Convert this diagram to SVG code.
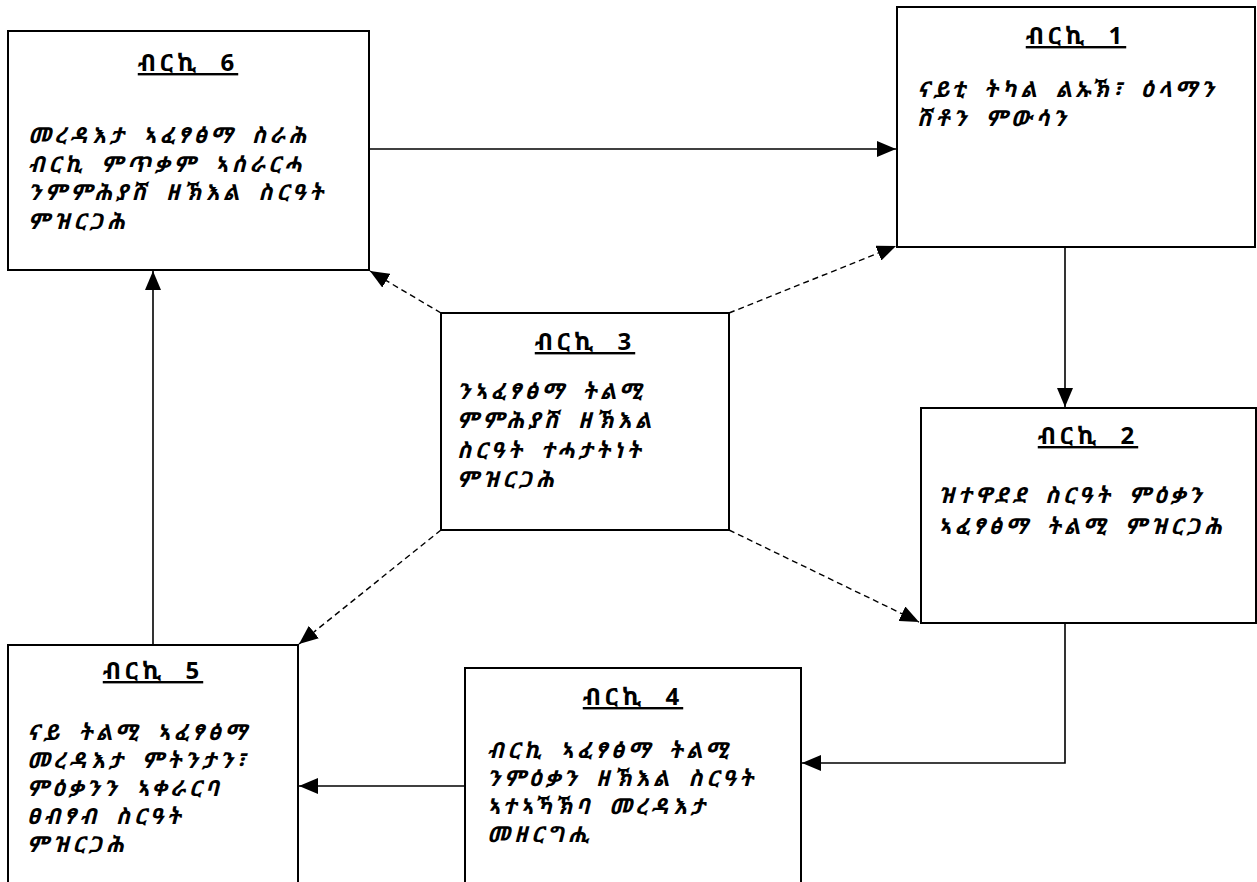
<svg xmlns="http://www.w3.org/2000/svg" width="1257" height="882" viewBox="0 0 1257 882">
<style>
.box{fill:#fff;stroke:#000;stroke-width:2}
.t{font-family:"Noto Sans Ethiopic","Abyssinica SIL","Noto Sans","DejaVu Sans",serif;font-size:24px;font-weight:bold;text-anchor:middle;text-decoration:underline;letter-spacing:4px;word-spacing:10px;fill:#000}
.b{font-family:"Noto Sans Ethiopic","Abyssinica SIL","Noto Sans","DejaVu Sans",serif;font-size:22px;font-weight:bold;font-style:italic;letter-spacing:3.8px;word-spacing:6px;fill:#000}
.c{fill:none;stroke:#000;stroke-width:1.6}
.d{fill:none;stroke:#000;stroke-width:1.4;stroke-dasharray:6 4}
</style>
<defs>
<marker id="ah" markerUnits="userSpaceOnUse" markerWidth="20" markerHeight="16" refX="19" refY="8" orient="auto">
<path d="M0,0 L19,8 L0,16 Z" fill="#000"/>
</marker>
</defs>
<rect width="1257" height="882" fill="#fff"/>
<g id="connectors">
<line class="c" x1="369" y1="149" x2="896" y2="149" marker-end="url(#ah)"/>
<line class="c" x1="1065" y1="247" x2="1065" y2="407" marker-end="url(#ah)"/>
<polyline class="c" points="1065,623 1065,763 802,763" marker-end="url(#ah)"/>
<line class="c" x1="465" y1="786" x2="299" y2="786" marker-end="url(#ah)"/>
<line class="c" x1="153" y1="645" x2="153" y2="271" marker-end="url(#ah)"/>
<line class="d" x1="441" y1="313" x2="370" y2="271" marker-end="url(#ah)"/>
<line class="d" x1="729" y1="313" x2="896" y2="246" marker-end="url(#ah)"/>
<line class="d" x1="441" y1="530" x2="299" y2="644" marker-end="url(#ah)"/>
<line class="d" x1="729" y1="530" x2="919" y2="622" marker-end="url(#ah)"/>
</g>
<g id="node6">
<rect class="box" x="8" y="31" width="361" height="239"/>
<text class="t" x="188" y="71">ብርኪ 6</text>
<text class="b" x="28" y="143">መረዳእታ ኣፈፃፅማ ስራሕ</text>
<text class="b" x="28" y="172">ብርኪ ምጥቃም ኣሰራርሓ</text>
<text class="b" x="28" y="200">ንምምሕያሽ ዘኽእል ስርዓት</text>
<text class="b" x="28" y="229">ምዝርጋሕ</text>
</g>
<g id="node1">
<rect class="box" x="897" y="7" width="358" height="240"/>
<text class="t" x="1076" y="44">ብርኪ 1</text>
<text class="b" x="917" y="97">ናይቲ ትካል ልኡኽ፣ ዕላማን</text>
<text class="b" x="917" y="126">ሽቶን ምውሳን</text>
</g>
<g id="node3">
<rect class="box" x="441" y="313" width="288" height="217"/>
<text class="t" x="585" y="350">ብርኪ 3</text>
<text class="b" x="457" y="399">ንኣፈፃፅማ ትልሚ</text>
<text class="b" x="457" y="428">ምምሕያሽ ዘኽእል</text>
<text class="b" x="457" y="458">ስርዓት ተሓታትነት</text>
<text class="b" x="457" y="487">ምዝርጋሕ</text>
</g>
<g id="node2">
<rect class="box" x="921" y="408" width="335" height="215"/>
<text class="t" x="1088" y="444">ብርኪ 2</text>
<text class="b" x="938" y="503">ዝተዋደደ ስርዓት ምዕቃን</text>
<text class="b" x="938" y="534">ኣፈፃፅማ ትልሚ ምዝርጋሕ</text>
</g>
<g id="node5">
<path class="box" d="M8,890 L8,645 L298,645 L298,890"/>
<text class="t" x="153" y="679">ብርኪ 5</text>
<text class="b" x="27" y="740">ናይ ትልሚ ኣፈፃፅማ</text>
<text class="b" x="27" y="768">መረዳእታ ምትንታን፣</text>
<text class="b" x="27" y="796">ምዕቃንን ኣቀራርባ</text>
<text class="b" x="27" y="824">ፀብፃብ ስርዓት</text>
<text class="b" x="27" y="852">ምዝርጋሕ</text>
</g>
<g id="node4">
<path class="box" d="M465,890 L465,668 L801,668 L801,890"/>
<text class="t" x="633" y="705">ብርኪ 4</text>
<text class="b" x="487" y="758">ብርኪ ኣፈፃፅማ ትልሚ</text>
<text class="b" x="487" y="786">ንምዕቃን ዘኽእል ስርዓት</text>
<text class="b" x="487" y="814">ኣተኣኻኽባ መረዳእታ</text>
<text class="b" x="487" y="842">መዘርግሒ</text>
</g>
</svg>
